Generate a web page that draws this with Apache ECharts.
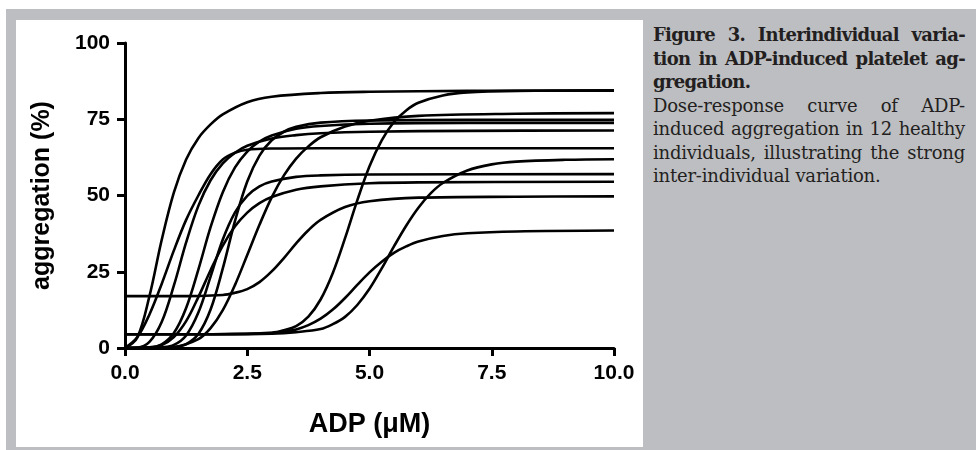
<!DOCTYPE html>
<html>
<head>
<meta charset="utf-8">
<script src="https://cdn.jsdelivr.net/npm/echarts@6/dist/echarts.min.js"></script>
<style>
  html, body { margin: 0; padding: 0; background: #fff; }
  #frame { position: absolute; left: 6px; top: 9px; width: 970px; height: 441px; background: #bdbec2; }
  #panel { position: absolute; left: 16px; top: 20px; width: 627px; height: 427px; background: #fff; }
  #chart { position: absolute; left: 0; top: 0; width: 976px; height: 450px; }
  #caption { position: absolute; left: 653px; top: 23px; width: 312px; font-family: 'DejaVu Serif', serif;
    font-size: 18px; line-height: 23.5px; color: #231f20; letter-spacing: -0.2px; }
  #caption div { white-space: nowrap; text-align: justify; text-align-last: justify; }
  #caption div.last { text-align-last: left; }
  #caption .b { font-weight: bold; letter-spacing: -0.7px; }
</style>
</head>
<body>
<div id="frame"></div>
<div id="panel"></div>
<div id="caption">
  <div class="b">Figure 3. Interindividual varia-</div>
  <div class="b">tion in ADP-induced platelet ag-</div>
  <div class="b last">gregation.</div>
  <div>Dose-response curve of ADP-</div>
  <div>induced aggregation in 12 healthy</div>
  <div>individuals, illustrating the strong</div>
  <div class="last">inter-individual variation.</div>
</div>
<div id="chart"></div>
<script>
// dose-response curves, one per individual: [ADP µM, aggregation %]
const subject1 = [[0,0],[0.25,3.4],[0.5,17],[0.75,35.4],[1,51],[1.25,61.8],[1.5,68.8],[1.75,73.3],[2,76.6],[2.5,80.6],[3,82.4],[4,83.6],[5,84],[7,84.3],[10,84.4]];
const subject2 = [[0,0],[0.25,3.5],[0.5,11],[0.75,21],[1,32],[1.25,42],[1.5,50],[1.75,57],[2,61.8],[2.25,64],[2.5,65],[3,65.4],[4,65.5],[10,65.5]];
const subject3 = [[0,0],[0.25,0.1],[0.5,2],[0.75,8.5],[1,20.5],[1.25,34.6],[1.5,46.6],[1.75,55],[2,60.5],[2.25,64],[2.5,66.3],[3,68.7],[3.5,69.8],[4,70.4],[5,70.9],[7,71.2],[10,71.3]];
const subject4 = [[0,0],[0.5,0.2],[0.75,1.2],[1,4.9],[1.25,13.1],[1.5,25.7],[1.75,39.6],[2,51.1],[2.25,59.2],[2.5,64.4],[2.75,67.7],[3,69.7],[3.5,71.9],[4,72.8],[5,73.5],[7,73.8],[10,73.8]];
const subject5 = [[0,0],[0.5,0],[1,0.3],[1.25,1.3],[1.5,4.6],[1.75,12.6],[2,26.1],[2.25,41.7],[2.5,54.6],[2.75,63.1],[3,68.1],[3.25,70.9],[3.5,72.5],[4,73.9],[5,74.6],[7,74.8],[10,74.8]];
const subject6 = [[0,0],[0.5,0],[1,0.3],[1.5,2.9],[1.75,6.5],[2,12.4],[2.25,20.7],[2.5,30.5],[2.75,40.4],[3,49.4],[3.25,56.6],[3.5,62.1],[3.75,66.1],[4,69.1],[4.5,72.6],[5,74.5],[6,76.1],[8,76.8],[10,77]];
const subject7 = [[0,0],[0.5,0],[0.75,0.2],[1,1],[1.25,4.1],[1.5,11.6],[1.75,23.4],[2,35.6],[2.25,44.5],[2.5,49.9],[2.75,53],[3,54.6],[3.5,56.1],[4,56.6],[5,56.9],[10,57]];
const subject8 = [[0,0],[0.5,0.2],[0.75,1],[1,3.6],[1.25,8.8],[1.5,16.7],[1.75,25.5],[2,33.6],[2.25,39.9],[2.5,44.4],[2.75,47.5],[3,49.5],[3.5,51.9],[4,53],[5,54],[6,54.3],[10,54.5]];
const subject9 = [[0,17],[1,17],[2,17.4],[2.25,18.1],[2.5,19.3],[2.75,21.6],[3,25.1],[3.25,29.5],[3.5,34.3],[3.75,38.6],[4,42],[4.5,46.2],[5,48.1],[6,49.3],[8,49.6],[10,49.7]];
const subject10 = [[0,4.5],[1,4.5],[2,4.6],[3,5],[3.25,5.8],[3.5,7.2],[3.75,10.3],[4,15.9],[4.25,24.6],[4.5,36],[4.75,48.4],[5,59.6],[5.25,68.1],[5.5,74.1],[5.75,77.9],[6,80.4],[6.5,82.8],[7,83.8],[8,84.3],[10,84.5]];
const subject11 = [[0,4.5],[1,4.5],[2,4.5],[3,4.9],[3.25,5.4],[3.5,6.1],[3.75,7.5],[4,9.6],[4.25,12.6],[4.5,16.4],[4.75,20.7],[5,24.8],[5.25,28.3],[5.5,31.2],[5.75,33.3],[6,34.9],[6.5,36.7],[7,37.6],[8,38.2],[10,38.5]];
const subject12 = [[0,4.5],[1,4.5],[2,4.5],[3,4.7],[3.5,5.2],[4,6.2],[4.25,7.8],[4.5,10.2],[4.75,14.1],[5,19.4],[5.25,26.1],[5.5,33.3],[5.75,40.1],[6,46],[6.25,50.7],[6.5,54.1],[7,58.2],[7.5,60.2],[8,61.1],[9,61.7],[10,61.9]];

const subjects = [subject1, subject2, subject3, subject4, subject5, subject6,
  subject7, subject8, subject9, subject10, subject11, subject12];

const xTicks = [0, 2.5, 5, 7.5, 10];
const yTicks = [0, 25, 50, 75, 100];

const chart = echarts.init(document.getElementById('chart'));
const font = "'Liberation Sans', Arial, sans-serif";

chart.setOption({
  animation: false,
  grid: { left: 125, right: 362, top: 43, bottom: 102 },
  xAxis: {
    type: 'value',
    min: xTicks[0],
    max: xTicks[xTicks.length - 1],
    interval: 2.5,
    name: 'ADP (μM)',
    nameLocation: 'middle',
    nameGap: 63,
    nameTextStyle: { fontFamily: font, fontWeight: 'bold', fontSize: 27, color: '#000' },
    axisLine: { lineStyle: { color: '#000', width: 3 } },
    axisTick: { length: 8, lineStyle: { color: '#000', width: 3 } },
    axisLabel: {
      margin: 15,
      fontFamily: font, fontWeight: 'bold', fontSize: 21, color: '#000',
      formatter: (v) => v.toFixed(1),
    },
    splitLine: { show: false },
  },
  yAxis: {
    type: 'value',
    min: yTicks[0],
    max: yTicks[yTicks.length - 1],
    interval: 25,
    name: 'aggregation (%)',
    nameLocation: 'middle',
    nameGap: 70,
    nameTextStyle: { fontFamily: font, fontWeight: 'bold', fontSize: 25, color: '#000' },
    axisLine: { show: true, lineStyle: { color: '#000', width: 3 } },
    axisTick: { show: true, length: 8, lineStyle: { color: '#000', width: 3 } },
    axisLabel: { margin: 15, fontFamily: font, fontWeight: 'bold', fontSize: 21, color: '#000' },
    splitLine: { show: false },
  },
  series: subjects.map((data) => ({
    type: 'line',
    data,
    smooth: 0.35,
    symbol: 'none',
    silent: true,
    lineStyle: { color: '#000', width: 2.6 },
  })),
});
</script>
</body>
</html>
